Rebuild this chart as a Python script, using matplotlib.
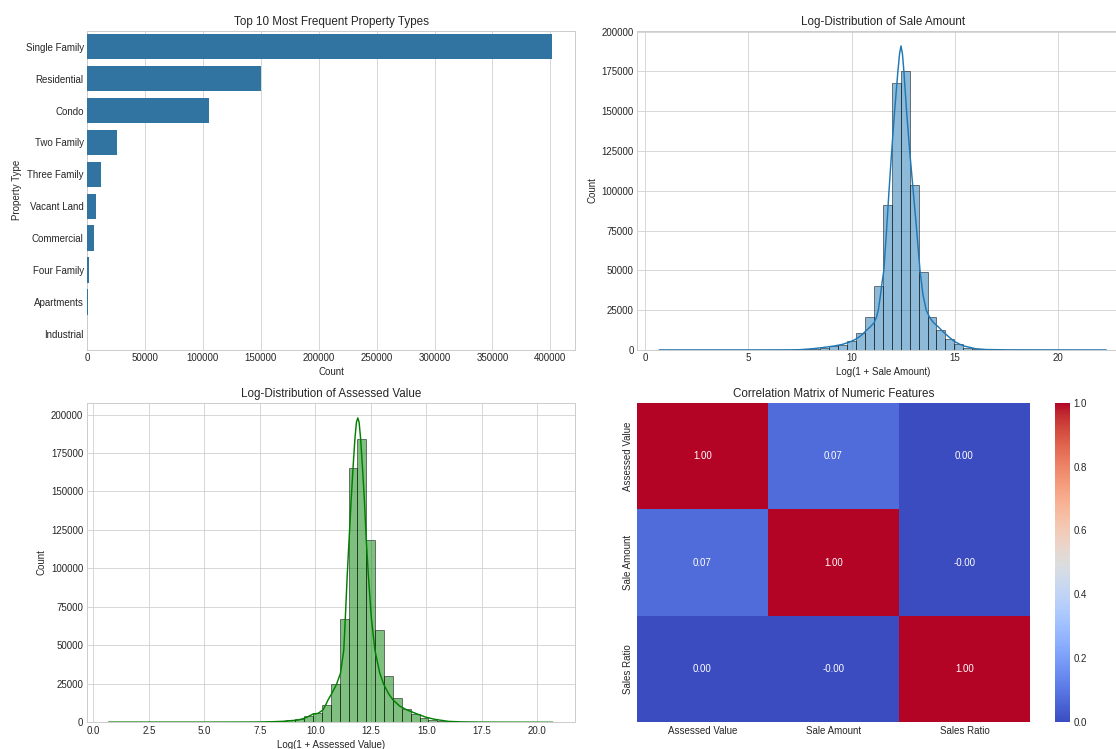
import numpy as np
import matplotlib
matplotlib.use("Agg")
import matplotlib.pyplot as plt
from matplotlib.ticker import MultipleLocator, FormatStrFormatter

# ---------------- data ----------------
property_types = ["Single Family", "Residential", "Condo", "Two Family", "Three Family",
                  "Vacant Land", "Commercial", "Four Family", "Apartments", "Industrial"]
property_counts = [401200, 150300, 105200, 25900, 12000, 7700, 5900, 1700, 800, 100]

# Log(1 + Sale Amount) histogram (50 bins)
sale_min, sale_max = 0.693, 22.33
sale_counts = [150, 60, 40, 40, 60, 50, 60, 80, 90, 110,
               130, 150, 180, 200, 250, 300, 450, 750, 1500, 2300,
               3300, 5600, 10600, 20500, 40300, 91000, 167500, 175000, 103400, 48800,
               20700, 12800, 7000, 3500, 1400, 600, 300, 150, 100, 60,
               40, 30, 20, 10, 8, 6, 5, 4, 3, 2]
sale_kde_x = [0.69, 5.0, 7.0, 7.5, 8.1, 8.58, 9.15, 9.55, 9.9, 10.19, 10.45, 10.68, 10.9,
              11.08, 11.2, 11.29, 11.39, 11.47, 11.56, 11.69, 11.81, 11.94, 12.08, 12.24,
              12.32, 12.39, 12.46, 12.53, 12.66, 12.81, 12.98, 13.15, 13.31, 13.45, 13.61,
              13.8, 13.98, 14.2, 14.39, 14.7, 14.95, 15.2, 15.44, 16.0, 16.5, 17.5, 22.33]
sale_kde_y = [50, 50, 100, 200, 800, 1500, 2500, 3500, 5000, 6700, 9000, 11900, 14500,
              17000, 20500, 25000, 33800, 42000, 50000, 75000, 100000, 125000, 150000, 175000,
              186000, 191000, 186000, 175000, 150000, 125000, 100000, 75000, 50000, 35000, 25000,
              20000, 17000, 14500, 11900, 8300, 5600, 3800, 2500, 800, 300, 100, 20]

# Log(1 + Assessed Value) histogram (50 bins)
assessed_min, assessed_max = 0.693, 20.693
assessed_counts = [100, 20, 20, 20, 20, 20, 20, 30, 30, 30,
                   40, 40, 50, 60, 80, 100, 120, 200, 350, 650,
                   1300, 1900, 4100, 6000, 11000, 24700, 67400, 165500, 184100, 118500,
                   59700, 29900, 15500, 8900, 5200, 2600, 1200, 550, 260, 130,
                   70, 40, 25, 15, 10, 8, 6, 4, 3, 2]
assessed_kde_x = [0.69, 5.0, 7.0, 7.5, 8.0, 8.5, 9.0, 9.23, 9.5, 9.67, 9.9, 10.12, 10.34,
                  10.49, 10.57, 10.75, 10.95, 11.13, 11.28, 11.35, 11.44, 11.52, 11.61, 11.70,
                  11.78, 11.85, 11.91, 11.97, 12.04, 12.12, 12.21, 12.29, 12.38, 12.52, 12.68,
                  12.90, 13.08, 13.3, 13.5, 13.8, 14.13, 14.64, 15.0, 15.39, 15.99, 16.5,
                  17.5, 20.69]
assessed_kde_y = [100, 100, 150, 200, 350, 600, 1200, 1500, 2600, 3700, 5400, 5800, 8000,
                  12000, 14500, 19000, 24600, 31800, 47000, 68000, 97000, 119000, 144000, 166000,
                  184000, 195000, 197800, 195000, 184000, 166000, 144000, 119000, 97000, 68000, 47000,
                  32000, 24600, 18500, 14500, 10500, 8000, 5100, 3200, 1900, 600, 300,
                  100, 20]

corr_labels = ["Assessed Value", "Sale Amount", "Sales Ratio"]
corr_matrix = [[1.00, 0.07, 0.001],
               [0.07, 1.00, -0.001],
               [0.001, -0.001, 1.00]]

# ---------------- style ----------------
plt.style.use("seaborn-v0_8-whitegrid")
plt.rcParams["font.family"] = ["Liberation Sans", "DejaVu Sans"]
plt.rcParams["font.size"] = 10
plt.rcParams["axes.titlesize"] = 12
plt.rcParams["axes.labelsize"] = 10
plt.rcParams["xtick.labelsize"] = 10
plt.rcParams["ytick.labelsize"] = 10

DPI = 69.75
fig = plt.figure(figsize=(1116 / DPI, 749 / DPI), dpi=DPI)
W, H = 1116.0, 749.0


def px_axes(left, right, top, bottom):
    return fig.add_axes([left / W, 1 - bottom / H, (right - left) / W, (bottom - top) / H])


# ---- top-left: bar chart ----
ax1 = px_axes(87.1, 575, 30.7, 350)
ypos = np.arange(len(property_types))
ax1.barh(ypos, property_counts, height=0.8, color="#3274a1", zorder=3)
ax1.set_yticks(ypos)
ax1.set_yticklabels(property_types)
ax1.set_ylim(len(property_types) - 0.5, -0.5)
ax1.set_xlim(0, max(property_counts) * 1.05)
ax1.xaxis.set_major_locator(MultipleLocator(50000))
ax1.grid(axis="y", visible=False)
ax1.set_title("Top 10 Most Frequent Property Types")
ax1.set_xlabel("Count")
ax1.set_ylabel("Property Type")


def hist_panel(ax, vmin, vmax, counts, kx, ky, color, xlabel, title, xstep):
    edges = np.linspace(vmin, vmax, len(counts) + 1)
    centers = (edges[:-1] + edges[1:]) / 2
    ax.hist(centers, bins=edges, weights=counts, color=color, alpha=0.5,
            edgecolor="black", linewidth=1.0)
    ax.plot(kx, ky, color=color, linewidth=1.5)
    rng = vmax - vmin
    ax.set_xlim(vmin - 0.05 * rng, vmax + 0.05 * rng)
    ax.set_ylim(0, max(ky) * 1.05)
    ax.xaxis.set_major_locator(MultipleLocator(xstep))
    ax.yaxis.set_major_locator(MultipleLocator(25000))
    ax.set_title(title)
    ax.set_xlabel(xlabel)
    ax.set_ylabel("Count")


# ---- top-right: sale amount ----
ax2 = px_axes(637, 1128.7, 30.7, 350)
hist_panel(ax2, sale_min, sale_max, sale_counts, sale_kde_x, sale_kde_y, "#1f77b4",
           "Log(1 + Sale Amount)", "Log-Distribution of Sale Amount", 5)

# ---- bottom-left: assessed value ----
ax3 = px_axes(86.5, 575, 402.7, 722.3)
hist_panel(ax3, assessed_min, assessed_max, assessed_counts, assessed_kde_x, assessed_kde_y,
           "green", "Log(1 + Assessed Value)", "Log-Distribution of Assessed Value", 2.5)
ax3.xaxis.set_major_formatter(FormatStrFormatter("%.1f"))

# ---- bottom-right: heatmap ----
ax4 = px_axes(636.8, 1030, 402.7, 722.3)
cax = px_axes(1055.4, 1070, 402.7, 722.3)
cm = np.array(corr_matrix)
mesh = ax4.pcolormesh(cm, cmap="coolwarm", vmin=cm.min(), vmax=cm.max())
ax4.set_xlim(0, cm.shape[1])
ax4.set_ylim(cm.shape[0], 0)
ax4.grid(False)
for s in ax4.spines.values():
    s.set_visible(False)
ax4.set_xticks(np.arange(cm.shape[1]) + 0.5)
ax4.set_xticklabels(corr_labels)
ax4.set_yticks(np.arange(cm.shape[0]) + 0.5)
ax4.set_yticklabels(corr_labels, rotation=90, va="center")
for i in range(cm.shape[0]):
    for j in range(cm.shape[1]):
        ax4.text(j + 0.5, i + 0.5, f"{cm[i, j]:.2f}", ha="center", va="center",
                 color="white", fontsize=10)
ax4.set_title("Correlation Matrix of Numeric Features")
cb = fig.colorbar(mesh, cax=cax)
cb.outline.set_visible(False)
cb.set_ticks([0.0, 0.2, 0.4, 0.6, 0.8, 1.0])
cax.tick_params(length=0)
cax.grid(False)

fig.savefig("out.png", dpi=DPI)
